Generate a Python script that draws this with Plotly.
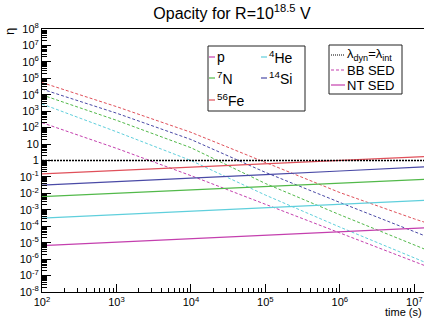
import plotly.graph_objects as go

# ---- data ----
time_s = [1e2, 1e3, 1e4, 1e5, 1e6, 1e7, 1.35e7]

species = ["p", "4He", "7N", "14Si", "56Fe"]
species_labels = ["p", "<sup>4</sup>He", "<sup>7</sup>N", "<sup>14</sup>Si", "<sup>56</sup>Fe"]
species_colors = ["#c43fae", "#5fcfdc", "#52b94a", "#4a4aa6", "#e0505a"]

# NT SED (solid) opacity eta
nt_p    = [6.6e-6, 1.07e-5, 1.74e-5, 2.8e-5, 4.6e-5, 7.4e-5, 7.9e-5]
nt_he   = [3.1e-4, 5.0e-4, 8.1e-4, 1.3e-3, 2.1e-3, 3.5e-3, 3.7e-3]
nt_n    = [6.3e-3, 1.02e-2, 1.62e-2, 2.6e-2, 4.2e-2, 6.8e-2, 7.2e-2]
nt_si   = [3.2e-2, 5.1e-2, 8.5e-2, 1.4e-1, 2.3e-1, 3.8e-1, 4.1e-1]
nt_fe   = [1.55e-1, 2.5e-1, 4.0e-1, 6.5e-1, 1.02, 1.66, 1.74]

# BB SED (dashed) opacity eta
bb_p    = [2.0e2, 5.5e0, 1.2e-1, 2.2e-3, 4.0e-5, 7.1e-7, 4.2e-7]
bb_he   = [2.75e3, 5.6e1, 1.0e0, 7.9e-3, 8.9e-5, 1.2e-6, 6.8e-7]
bb_n    = [9.8e3, 2.8e2, 6.0e0, 4.0e-2, 5.0e-4, 7.1e-6, 4.2e-6]
bb_si   = [2.2e4, 7.6e2, 1.9e1, 1.9e-1, 2.8e-3, 4.7e-5, 2.75e-5]
bb_fe   = [5.5e4, 1.9e3, 5.2e1, 7.6e-1, 1.12e-2, 2.8e-4, 1.8e-4]

eq_time = [1e2, 1.35e7]
eq_eta = [1, 1]

y_tickvals = [1e8, 1e7, 1e6, 1e5, 1e4, 1e3, 1e2, 1e1, 1, 1e-1, 1e-2, 1e-3, 1e-4, 1e-5, 1e-6, 1e-7, 1e-8]
y_ticktext = ["10<sup>8</sup>", "10<sup>7</sup>", "10<sup>6</sup>", "10<sup>5</sup>", "10<sup>4</sup>",
              "10<sup>3</sup>", "10<sup>2</sup>", "10", "1", "10<sup>-1</sup>", "10<sup>-2</sup>",
              "10<sup>-3</sup>", "10<sup>-4</sup>", "10<sup>-5</sup>", "10<sup>-6</sup>",
              "10<sup>-7</sup>", "10<sup>-8</sup>"]
x_tickvals = [1e2, 1e3, 1e4, 1e5, 1e6, 1e7]
x_ticktext = ["10<sup>2</sup>", "10<sup>3</sup>", "10<sup>4</sup>", "10<sup>5</sup>", "10<sup>6</sup>", "10<sup>7</sup>"]

nt_series = [nt_p, nt_he, nt_n, nt_si, nt_fe]
bb_series = [bb_p, bb_he, bb_n, bb_si, bb_fe]

FONT = "Liberation Sans, Arial, sans-serif"

fig = go.Figure()

for name, col, bb in zip(species, species_colors, bb_series):
    fig.add_trace(go.Scatter(x=time_s, y=bb, mode="lines", name=name + " BB",
                             line=dict(color=col, width=1, dash="3px,2px"),
                             showlegend=False))
for name, col, nt in zip(species, species_colors, nt_series):
    fig.add_trace(go.Scatter(x=time_s, y=nt, mode="lines", name=name + " NT",
                             line=dict(color=col, width=1.2), showlegend=False))

fig.add_trace(go.Scatter(x=eq_time, y=eq_eta, mode="lines", name="eq",
                         line=dict(color="black", width=1.5, dash="2px,1px"), showlegend=False))

# ---- manual legends (paper coordinates of plot area: x 42..424, y 29..292) ----
W, H = 424, 324
L, R, T, B = 42, 0, 29, 32
pw, ph = W - L - R, H - T - B

def px(x):
    return (x - L) / pw

def py(y):
    return 1 - (y - T) / ph

shapes = []
annots = []
# legend box 1
shapes.append(dict(type="rect", xref="paper", yref="paper", x0=px(208), x1=px(305), y0=py(111), y1=py(46),
                   line=dict(color="#222", width=1), fillcolor="white", layer="above"))
leg1 = [(0, 209, 57), (1, 261, 57), (2, 209, 78), (3, 261, 78), (4, 209, 100)]
for i, xk, yk in leg1:
    shapes.append(dict(type="line", xref="paper", yref="paper", x0=px(xk), x1=px(xk + 6), y0=py(yk), y1=py(yk),
                       line=dict(color=species_colors[i], width=1.2), layer="above"))
    annots.append(dict(x=px(xk + 6), y=py(yk), xref="paper", yref="paper", text=species_labels[i],
                       showarrow=False, xanchor="left", yanchor="middle",
                       font=dict(family=FONT, size=14, color="black")))
# legend box 2
shapes.append(dict(type="rect", xref="paper", yref="paper", x0=px(329), x1=px(402), y0=py(94), y1=py(45),
                   line=dict(color="#222", width=1), fillcolor="white", layer="above"))
leg2 = [("λ<sub>dyn</sub>=λ<sub>int</sub>", "black", "1px,1px", 55),
        ("BB SED", species_colors[0], "3px,2px", 70),
        ("NT SED", species_colors[0], "solid", 85)]
for txt, col, dash, yk in leg2:
    shapes.append(dict(type="line", xref="paper", yref="paper", x0=px(331), x1=px(345), y0=py(yk), y1=py(yk),
                       line=dict(color=col, width=1.2, dash=dash), layer="above"))
    annots.append(dict(x=px(345), y=py(yk), xref="paper", yref="paper", text=txt,
                       showarrow=False, xanchor="left", yanchor="middle",
                       font=dict(family=FONT, size=13, color="black")))

# axis titles
annots.append(dict(x=px(10), y=py(32), xref="paper", yref="paper", text="η", textangle=-90,
                   showarrow=False, xanchor="center", yanchor="middle",
                   font=dict(family=FONT, size=13, color="black")))
annots.append(dict(x=1, y=py(312), xref="paper", yref="paper", text="time (s)",
                   showarrow=False, xanchor="right", yanchor="middle",
                   font=dict(family=FONT, size=11, color="black")))

fig.update_layout(
    width=W, height=H,
    margin=dict(l=L, r=R, t=T, b=B, autoexpand=False),
    paper_bgcolor="white", plot_bgcolor="white",
    title=dict(text="Opacity for R=10<sup>18.5</sup> V", x=232 / W, xanchor="center",
               y=1 - 13 / H, yanchor="middle", font=dict(family=FONT, size=16, color="black")),
    showlegend=False,
    shapes=shapes,
    annotations=annots,
    font=dict(family=FONT, color="black"),
)

fig.update_xaxes(type="log", range=[2, 7.13], showgrid=False, zeroline=False, automargin=False,
                 showline=True, linecolor="black", linewidth=1, mirror=True,
                 ticks="inside", ticklen=8, tickcolor="black",
                 tickvals=x_tickvals, ticktext=x_ticktext,
                 tickfont=dict(family=FONT, size=11, color="black"),
                 minor=dict(ticks="inside", ticklen=4, dtick="D1", tickcolor="black", showgrid=False))
fig.update_yaxes(type="log", range=[-8, 8], showgrid=False, zeroline=False, automargin=False,
                 showline=True, linecolor="black", linewidth=1, mirror=False,
                 ticks="inside", ticklen=9, tickcolor="black",
                 tickvals=y_tickvals, ticktext=y_ticktext,
                 tickfont=dict(family=FONT, size=11, color="black"),
                 minor=dict(ticks="inside", ticklen=5, dtick="D1", tickcolor="black", showgrid=False))

fig.write_html("out.html", config={"displayModeBar": False},
               post_script="document.body.style.margin='0px';")
